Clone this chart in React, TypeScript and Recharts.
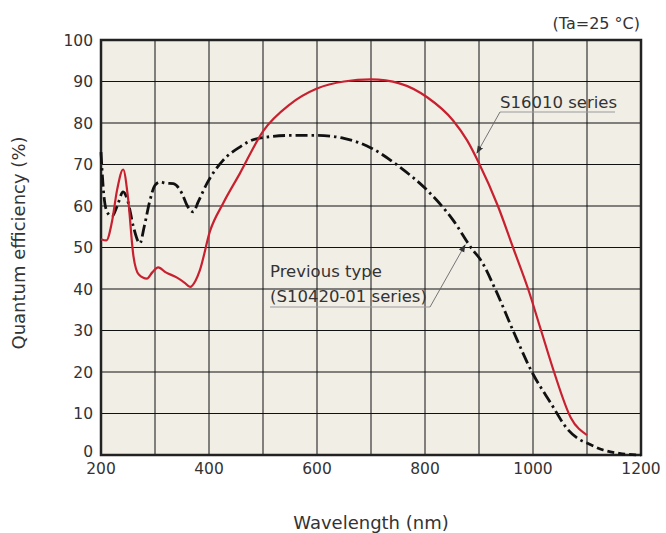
import {
  LineChart, Line, XAxis, YAxis, CartesianGrid, ReferenceArea,
} from 'recharts';

const xTicks = [200, 300, 400, 500, 600, 700, 800, 900, 1000, 1100, 1200];
const yTicks = [0, 10, 20, 30, 40, 50, 60, 70, 80, 90, 100];

// S16010 series
const newNm = [200, 210, 220, 230, 241, 250, 260, 270, 285, 295, 306, 320, 340, 355, 365, 375, 383, 402, 426, 457, 500, 550, 600, 650, 700, 754, 804, 852, 878, 900, 935, 963, 991, 1015, 1039, 1070, 1100];
const newQe = [52, 51.7, 56, 64, 68.8, 62, 48, 43.5, 42.5, 44, 45.2, 44, 42.8, 41.5, 40.5, 42, 44.5, 54, 60.6, 67.8, 78, 84.5, 88.3, 90, 90.5, 89.5, 86.2, 80.6, 75.8, 70.3, 60, 50, 40, 30, 20, 9, 4.8];

// Previous type (S10420-01 series)
const prevNm = [200, 205, 210, 220, 230, 241, 250, 260, 272, 280, 290, 300, 309, 320, 334, 350, 360, 371, 380, 396, 426, 457, 488, 550, 600, 650, 700, 754, 804, 852, 889, 901, 930, 963, 998, 1033, 1064, 1085, 1100];
const prevQe = [73, 63, 59, 57.4, 60, 63.4, 61, 55, 51, 55, 61, 65, 65.8, 65.5, 65.4, 63, 60, 58.6, 61, 65.4, 71, 74.2, 76.2, 77, 77, 76.3, 74, 69.3, 63.8, 56.6, 49.3, 47.4, 40, 30, 20, 12.5, 6.2, 3.8, 2.9];
const tailNm = [1100, 1130, 1160, 1200];
const tailQe = [2.9, 1.2, 0.4, 0];

const toPts = (xs: number[], ys: number[]) => xs.map((nm, i) => ({ nm, qe: ys[i] }));
const newData = toPts(newNm, newQe);
const prevData = toPts(prevNm, prevQe);
const tailData = toPts(tailNm, tailQe);

const FONT = '"DejaVu Sans", Verdana, sans-serif';
const TXT = '#333';

// "0" sits a little above its line in the original so it clears the x label
function YTick(props: any) {
  const { x, y, payload } = props;
  const dy = payload.value === 0 ? -4 : 0;
  return (
    <text x={x} y={y + dy} dy="0.355em" textAnchor="end" fill={TXT} fontSize={15.5} fontFamily={FONT}>
      {payload.value}
    </text>
  );
}

export default function App() {
  return (
    <div style={{ position: 'absolute', left: 0, top: 0, width: 666, height: 533, background: '#fff', fontFamily: FONT }}>
      <LineChart width={666} height={533} margin={{ top: 40, right: 25, bottom: 48, left: 0 }}>
        <CartesianGrid stroke="#111" strokeWidth={1} fill="#f1eee6" fillOpacity={1} />
        <XAxis
          type="number"
          dataKey="nm"
          domain={[200, 1200]}
          ticks={xTicks}
          tickFormatter={(v) => (v % 200 === 0 ? String(v) : '')}
          axisLine={false}
          tickLine={false}
          height={30}
          tick={{ fill: TXT, fontSize: 15.5, fontFamily: FONT }}
          allowDuplicatedCategory={false}
        />
        <YAxis
          type="number"
          domain={[0, 100]}
          ticks={yTicks}
          axisLine={false}
          tickLine={false}
          width={101}
          tick={<YTick />}
        />
        <ReferenceArea x1={200} x2={1200} y1={0} y2={100} fill="none" stroke="#222" strokeWidth={2.5} ifOverflow="visible" />
        <Line data={tailData} dataKey="qe" type="monotone" stroke="#111" strokeWidth={2.8} strokeDasharray="7 4" dot={false} isAnimationActive={false} />
        <Line data={prevData} dataKey="qe" type="monotone" stroke="#111" strokeWidth={2.8} strokeDasharray="12 4 2.5 4" dot={false} isAnimationActive={false} />
        <Line data={newData} dataKey="qe" type="monotone" stroke="#c8202f" strokeWidth={2.2} dot={false} isAnimationActive={false} />
      </LineChart>
      <svg width={666} height={533} style={{ position: 'absolute', left: 0, top: 0, pointerEvents: 'none' }}>
        <defs>
          <marker id="arr" markerWidth="8" markerHeight="8" refX="7" refY="4" orient="auto" markerUnits="userSpaceOnUse">
            <path d="M0,1 L8,4 L0,7 Z" fill="#333" />
          </marker>
        </defs>
        <text x={640} y={29} textAnchor="end" fontSize={16} fill={TXT} fontFamily={FONT}>(Ta=25 °C)</text>
        <text transform="translate(25,243) rotate(-90)" textAnchor="middle" fontSize={18} fill={TXT} fontFamily={FONT}>Quantum efficiency (%)</text>
        <text x={371} y={529} textAnchor="middle" fontSize={18} fill={TXT} fontFamily={FONT}>Wavelength (nm)</text>

        <text x={500} y={108} fontSize={16.5} fill={TXT} fontFamily={FONT}>S16010 series</text>
        <line x1={500} y1={112} x2={615} y2={112} stroke="#999" strokeWidth={1.2} />
        <line x1={500} y1={112} x2={477} y2={153} stroke="#666" strokeWidth={0.9} markerEnd="url(#arr)" />

        <text x={270} y={277} fontSize={16.5} fill={TXT} fontFamily={FONT}>Previous type</text>
        <text x={270} y={302} fontSize={16.5} fill={TXT} fontFamily={FONT}>(S10420-01 series)</text>
        <line x1={270} y1={307} x2={430} y2={307} stroke="#999" strokeWidth={1.2} />
        <line x1={430} y1={307} x2={465} y2={245} stroke="#666" strokeWidth={0.9} markerEnd="url(#arr)" />
      </svg>
    </div>
  );
}
